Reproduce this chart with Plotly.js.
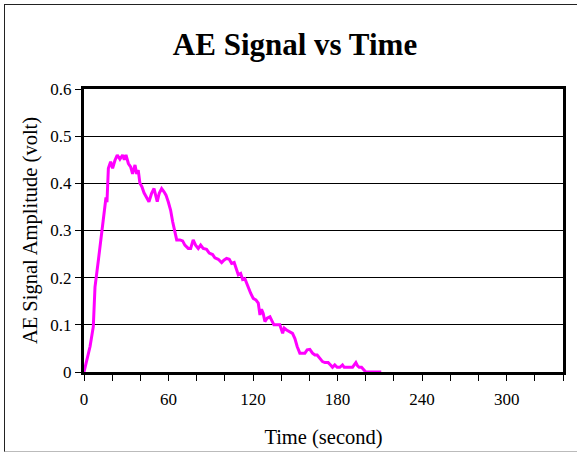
<!DOCTYPE html>
<html>
<head>
<meta charset="utf-8">
<script src="https://cdn.plot.ly/plotly-3.0.1.min.js"></script>
<style>
html,body{margin:0;padding:0;background:#fff;}
#wrap{position:relative;width:577px;height:454px;}
#chart{width:577px;height:454px;}
#frame{position:absolute;left:4px;top:4px;width:580px;height:446px;border-left:1px solid #222;border-top:1px solid #222;border-bottom:1px solid #bbb;pointer-events:none;}
</style>
</head>
<body>
<div id="wrap"><div id="chart"></div><div id="frame"></div></div>
<script>
const timeSec = [0, 4.3, 6.6, 7.8, 10.2, 12.5, 14.9, 15.6, 16.3, 17.3, 18.9, 20.3, 22, 23.6, 25.5, 27.4, 28.6, 29.8, 31.5, 33.1, 34.5, 36.2, 37.4, 38.5, 39.7, 41.1, 42.6, 44.5, 46.1, 48, 49.7, 51.1, 52, 53.4, 55.1, 56.8, 58.2, 59.8, 61.5, 62.9, 64.1, 65.8, 68.1, 70, 71.6, 74, 75.7, 77.5, 79.2, 81.1, 82.8, 84.6, 87, 88.9, 91.3, 92.9, 95.3, 97.7, 99.3, 101.2, 103.1, 104.8, 106.6, 107.8, 109.5, 111.2, 112.6, 114.2, 115.4, 117.3, 118.3, 120.1, 122, 123.7, 124.9, 126, 127.2, 128.4, 130, 132, 133.9, 134.8, 136.7, 139, 141, 142.1, 143.8, 146.1, 148, 149.7, 151.3, 153.2, 155.1, 156.8, 158.4, 160.3, 162.2, 163.9, 165.5, 167.4, 169.3, 171, 173.3, 175, 176.4, 178, 179.7, 181.6, 183.5, 184.7, 186.4, 188.7, 190.6, 191.8, 193, 194.2, 195.3, 197, 198.6, 200, 202.9, 211];
const aeVolt = [0, 0.054, 0.096, 0.18, 0.237, 0.294, 0.36, 0.37, 0.36, 0.432, 0.446, 0.432, 0.449, 0.46, 0.451, 0.46, 0.45, 0.46, 0.442, 0.435, 0.42, 0.439, 0.42, 0.428, 0.40, 0.393, 0.38, 0.37, 0.361, 0.379, 0.389, 0.372, 0.361, 0.379, 0.389, 0.382, 0.375, 0.361, 0.343, 0.319, 0.301, 0.28, 0.28, 0.278, 0.269, 0.262, 0.262, 0.28, 0.269, 0.262, 0.269, 0.262, 0.26, 0.252, 0.249, 0.242, 0.239, 0.232, 0.237, 0.241, 0.239, 0.23, 0.232, 0.22, 0.206, 0.209, 0.196, 0.198, 0.188, 0.174, 0.167, 0.156, 0.153, 0.146, 0.121, 0.133, 0.124, 0.107, 0.114, 0.117, 0.103, 0.1, 0.1, 0.1, 0.082, 0.093, 0.089, 0.085, 0.082, 0.071, 0.054, 0.04, 0.04, 0.04, 0.047, 0.048, 0.04, 0.036, 0.036, 0.029, 0.022, 0.02, 0.02, 0.015, 0.01, 0.015, 0.01, 0.01, 0.015, 0.01, 0.01, 0.01, 0.01, 0.015, 0.02, 0.013, 0.01, 0.01, 0.004, 0, 0, 0];
const xTickVals = [0, 60, 120, 180, 240, 300];
const yTickVals = [0, 0.1, 0.2, 0.3, 0.4, 0.5, 0.6];

const serif = '"Liberation Serif", "Times New Roman", serif';

Plotly.newPlot('chart', [{
  x: timeSec, y: aeVolt, type: 'scatter', mode: 'lines',
  line: {color: '#FF00FF', width: 3}, hoverinfo: 'skip'
}], {
  width: 577, height: 454,
  margin: {l: 84, r: 14, t: 89, b: 82},
  paper_bgcolor: '#fff', plot_bgcolor: '#fff',
  showlegend: false,
  font: {family: serif, color: '#000', size: 17},
  title: {text: '<b>AE Signal vs Time</b>', font: {family: serif, size: 31, color: '#000'},
          x: 295/577, xanchor: 'center', y: 1 - 44/454, yanchor: 'middle', yref: 'container'},
  xaxis: {
    range: [0, 340], tickvals: xTickVals, ticks: 'outside', ticklen: 6, tickwidth: 1, tickcolor: '#000',
    minor: {dtick: 20, tick0: 0, ticks: 'outside', ticklen: 6, tickwidth: 1, tickcolor: '#000', showgrid: false},
    showline: true, linecolor: '#000', linewidth: 3, mirror: true,
    showgrid: false, zeroline: false, ticklabelstandoff: 4,
    tickfont: {family: serif, size: 17, color: '#000'},
    title: {text: 'Time (second)', font: {family: serif, size: 20.5, color: '#000'}, standoff: 22}
  },
  yaxis: {
    range: [0, 0.6], tickvals: yTickVals, ticks: 'outside', ticklen: 6, tickwidth: 1, tickcolor: '#000',
    showline: true, linecolor: '#000', linewidth: 3, mirror: true,
    showgrid: true, gridcolor: '#000', gridwidth: 1, zeroline: false,
    tickfont: {family: serif, size: 17, color: '#000'},
    title: {text: 'AE Signal Amplitude (volt)', font: {family: serif, size: 20.5, color: '#000'}, standoff: 8}
  }
}, {staticPlot: true, displayModeBar: false});
</script>
</body>
</html>
